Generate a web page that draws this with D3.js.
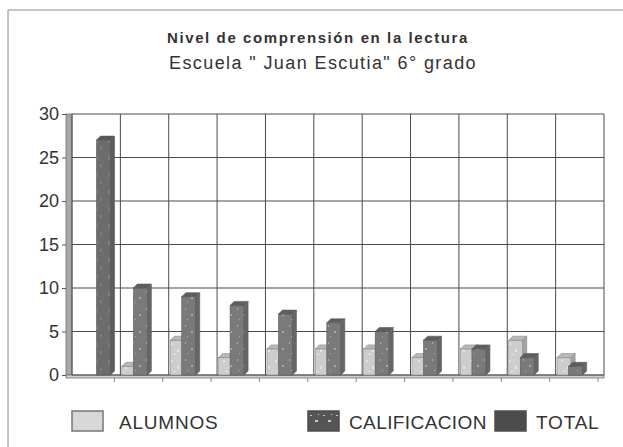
<!DOCTYPE html>
<html>
<head>
<meta charset="utf-8">
<script src="https://cdn.jsdelivr.net/npm/d3@7"></script>
<style>
  html, body { margin: 0; padding: 0; background: #fff; }
  svg { display: block; font-family: "Liberation Sans", Arial, sans-serif; }
</style>
</head>
<body>
<div id="chart"></div>
<script>
// Datos
const categorias = ["Total", "10", "9", "8", "7", "6", "5", "4", "3", "2", "1"];
const alumnos = [0, 1, 4, 2, 3, 3, 3, 2, 3, 4, 2];
const calificacion = [0, 10, 9, 8, 7, 6, 5, 4, 3, 2, 1];
const total = [27, 0, 0, 0, 0, 0, 0, 0, 0, 0, 0];
const series = ["ALUMNOS", "CALIFICACION", "TOTAL"];
const yTicks = [0, 5, 10, 15, 20, 25, 30];

const width = 623, height = 447;
const plot = { left: 72, right: 604, top: 114, bottom: 375 };
const depth = 4;

const svg = d3.select("#chart").append("svg").attr("width", width).attr("height", height);

// texturas tipo escaneo
const defs = svg.append("defs");
function speckle(id, base, dot, dots) {
  const p = defs.append("pattern").attr("id", id).attr("patternUnits", "userSpaceOnUse")
    .attr("width", 13).attr("height", 17);
  p.append("rect").attr("width", 13).attr("height", 17).attr("fill", base);
  dots.forEach(([x, y, w, h]) => p.append("rect").attr("x", x).attr("y", y).attr("width", w).attr("height", h).attr("fill", dot));
}
speckle("pAlumnos", "#cdcdcd", "#e4e4e4", [[2, 3, 2, 2], [8, 9, 2, 3], [4, 14, 3, 1]]);
speckle("pCalif", "#7a7a7a", "#a9a9a9", [[3, 2, 1, 2], [9, 8, 2, 2], [5, 13, 1, 1]]);
speckle("pTotal", "#6c6c6c", "#7d7d7d", [[4, 3, 3, 4], [9, 11, 2, 3]]);
speckle("pCalifLeg", "#555", "#c8c8c8", [[2, 4, 2, 1], [7, 9, 3, 2], [10, 3, 1, 1]]);

const colores = {
  ALUMNOS: { front: "url(#pAlumnos)", top: "#b8b8b8", side: "#a4a4a4", stroke: "#8a8a8a", legend: "#d8d8d8" },
  CALIFICACION: { front: "url(#pCalif)", top: "#5e5e5e", side: "#666", stroke: "#5a5a5a", legend: "url(#pCalifLeg)" },
  TOTAL: { front: "url(#pTotal)", top: "#585858", side: "#5c5c5c", stroke: "#555", legend: "#4c4c4c" }
};

// marco del escaneo
svg.append("line").attr("x1", 8).attr("x2", width).attr("y1", 10).attr("y2", 10).attr("stroke", "#8a8a8a");
svg.append("line").attr("x1", 8).attr("x2", 8).attr("y1", 10).attr("y2", height).attr("stroke", "#8a8a8a");

// titulos
svg.append("text").attr("x", 318).attr("y", 43).attr("text-anchor", "middle")
  .attr("font-size", 15).attr("font-weight", "bold").attr("letter-spacing", 1.6).attr("fill", "#333")
  .text("Nivel de comprensión en la lectura");
svg.append("text").attr("x", 323).attr("y", 69).attr("text-anchor", "middle")
  .attr("font-size", 18).attr("letter-spacing", 1.4).attr("fill", "#333")
  .text("Escuela \" Juan Escutia\" 6° grado");

const x0 = d3.scaleBand().domain(categorias).range([plot.left, plot.right]).padding(0);
const x1 = d3.scaleBand().domain(series).range([1.5, 36]).padding(0);
const y = d3.scaleLinear().domain([0, 30]).range([plot.bottom, plot.top]);

// pared izquierda y piso
svg.append("rect").attr("x", plot.left - 6).attr("y", plot.top).attr("width", 6)
  .attr("height", plot.bottom - plot.top).attr("fill", "#a8a8a8").attr("stroke", "#707070").attr("stroke-width", 0.8);
svg.append("rect").attr("x", plot.left - 6).attr("y", plot.bottom).attr("width", plot.right - plot.left + 6)
  .attr("height", 3).attr("fill", "#cfcfcf").attr("stroke", "#707070").attr("stroke-width", 0.8);

// rejilla
const grid = svg.append("g");
grid.selectAll("line.h").data(yTicks).join("line").attr("class", "h")
  .attr("x1", plot.left).attr("x2", plot.right)
  .attr("y1", d => y(d)).attr("y2", d => y(d))
  .attr("stroke", "#4a4a4a").attr("stroke-width", 1);
const bordes = categorias.map(c => x0(c)).concat([plot.right]);
grid.selectAll("line.v").data(bordes).join("line").attr("class", "v")
  .attr("x1", d => d).attr("x2", d => d)
  .attr("y1", plot.top).attr("y2", plot.bottom)
  .attr("stroke", "#4a4a4a").attr("stroke-width", 1);
// marcas bajo el piso
grid.selectAll("line.t").data(bordes.slice(1)).join("line").attr("class", "t")
  .attr("x1", d => d - 6).attr("x2", d => d - 6)
  .attr("y1", plot.bottom + 3).attr("y2", plot.bottom + 7)
  .attr("stroke", "#888");

// eje y
const yAxis = svg.append("g").attr("transform", `translate(${plot.left - 6},0)`)
  .call(d3.axisLeft(y).tickValues(yTicks).tickSize(4).tickPadding(3));
yAxis.select(".domain").remove();
yAxis.selectAll("line").attr("stroke", "#555");
yAxis.selectAll("text").attr("font-size", 18).attr("fill", "#333")
  .attr("font-family", "\"Liberation Sans\", Arial, sans-serif");

// barras 3D
const valores = { ALUMNOS: alumnos, CALIFICACION: calificacion, TOTAL: total };
const barData = [];
categorias.forEach((c, i) => {
  series.forEach(s => {
    const v = valores[s][i];
    if (v > 0) barData.push({ cat: c, serie: s, value: v });
  });
});
const w = 14;
const bars = svg.append("g").selectAll("g").data(barData).join("g");
bars.append("rect")
  .attr("x", d => x0(d.cat) + x1(d.serie))
  .attr("y", d => y(d.value))
  .attr("width", w)
  .attr("height", d => plot.bottom - y(d.value))
  .attr("fill", d => colores[d.serie].front)
  .attr("stroke", d => colores[d.serie].stroke).attr("stroke-width", 0.6);
bars.append("polygon")
  .attr("points", d => {
    const bx = x0(d.cat) + x1(d.serie), by = y(d.value);
    return [[bx, by], [bx + depth, by - depth], [bx + w + depth, by - depth], [bx + w, by]].join(" ");
  })
  .attr("fill", d => colores[d.serie].top).attr("stroke", d => colores[d.serie].stroke).attr("stroke-width", 0.6);
bars.append("polygon")
  .attr("points", d => {
    const bx = x0(d.cat) + x1(d.serie) + w, by = y(d.value);
    return [[bx, by], [bx + depth, by - depth], [bx + depth, plot.bottom - depth], [bx, plot.bottom]].join(" ");
  })
  .attr("fill", d => colores[d.serie].side).attr("stroke", d => colores[d.serie].stroke).attr("stroke-width", 0.6);

// leyenda
const legendX = [72, 308, 495];
const legendSpacing = { ALUMNOS: 0.8, CALIFICACION: 0.4, TOTAL: 0.8 };
const legend = svg.append("g").selectAll("g").data(series).join("g")
  .attr("transform", (d, i) => `translate(${legendX[i]},411)`);
legend.append("rect").attr("width", 31).attr("height", 20)
  .attr("fill", d => colores[d].legend)
  .attr("stroke", d => d === "ALUMNOS" ? "#777" : "#4e4e4e").attr("stroke-width", 1.5);
legend.append("text").attr("x", d => d === "ALUMNOS" ? 47 : 41).attr("y", 18)
  .attr("font-size", 19).attr("letter-spacing", d => legendSpacing[d]).attr("fill", "#333")
  .text(d => d);
</script>
</body>
</html>
